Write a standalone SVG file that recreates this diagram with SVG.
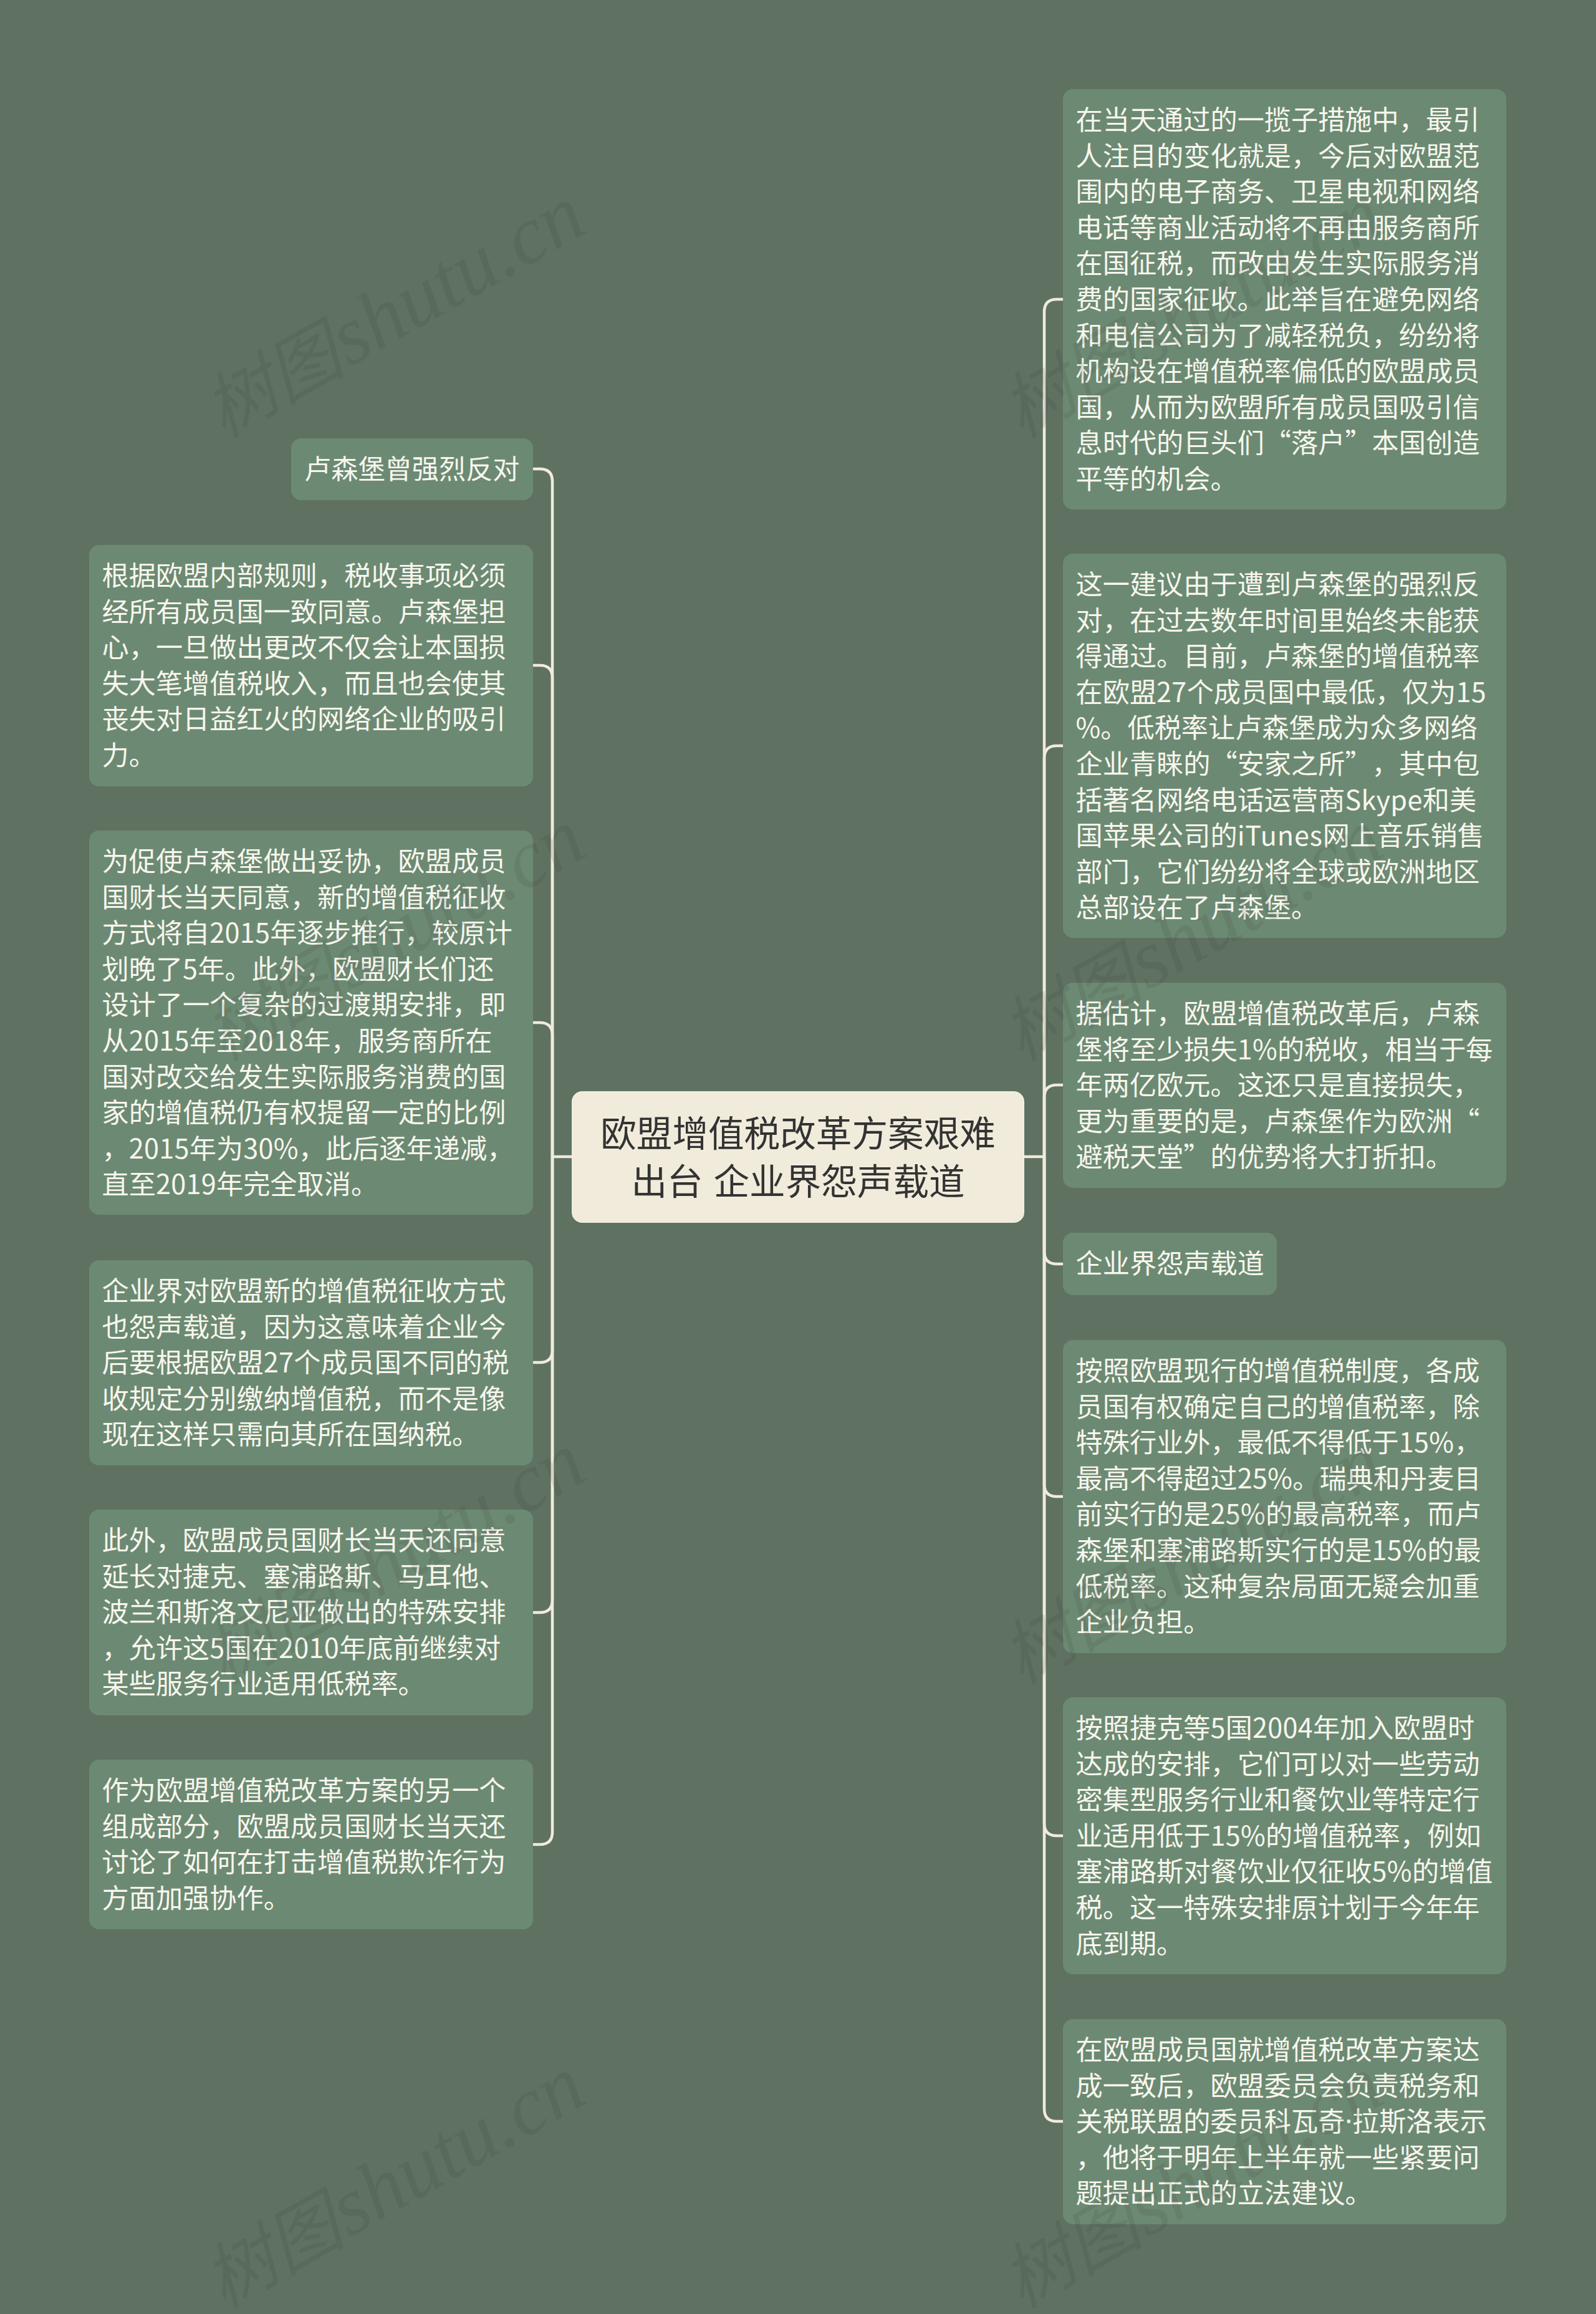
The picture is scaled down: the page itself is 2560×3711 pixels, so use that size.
<svg xmlns="http://www.w3.org/2000/svg" width="2560" height="3711" viewBox="0 0 2560 3711">
<style>
.bg{fill:#5f7262}
.n{fill:#6c8a73}
.root{fill:#f0ebdb;stroke:#f2eee0;stroke-width:2}
.c{fill:none;stroke:#f0ebdc;stroke-width:4.5}
.t{font-family:"Noto Sans CJK SC","Noto Sans",sans-serif;font-size:43.2px;fill:#f8f6ee;text-spacing-trim:space-all}
.l{letter-spacing:.3px}
.i{letter-spacing:.8px}
.d{font-family:"Noto Sans",sans-serif}
.rt{font-family:"Noto Sans CJK SC","Noto Sans",sans-serif;font-size:57.6px;fill:#333;text-anchor:middle;word-spacing:4px}
.w{font-family:"Liberation Serif","Noto Sans CJK SC",serif;font-style:italic;font-size:132px;fill:#333;fill-opacity:.13}
.wc{font-size:114px;word-spacing:-24px}
</style>
<rect class="bg" width="2560" height="3711"/>
<g id="connectors">
<path class="c" d="M917 1855H886V772Q886 752 866 752H855"/>
<path class="c" d="M886 1855V1087Q886 1067 866 1067H855"/>
<path class="c" d="M886 1855V1660Q886 1640 866 1640H855"/>
<path class="c" d="M886 1855V2165Q886 2185 866 2185H855"/>
<path class="c" d="M886 1855V2566Q886 2586 866 2586H855"/>
<path class="c" d="M886 1855V2938Q886 2958 866 2958H855"/>
<path class="c" d="M1643 1855H1675V500Q1675 480 1695 480H1705"/>
<path class="c" d="M1675 1855V1216Q1675 1196 1695 1196H1705"/>
<path class="c" d="M1675 1855V1760Q1675 1740 1695 1740H1705"/>
<path class="c" d="M1675 1855V2007Q1675 2027 1695 2027H1705"/>
<path class="c" d="M1675 1855V2380Q1675 2400 1695 2400H1705"/>
<path class="c" d="M1675 1855V2924Q1675 2944 1695 2944H1705"/>
<path class="c" d="M1675 1855V3382Q1675 3402 1695 3402H1705"/>
</g>
<g id="root">
<rect class="root" x="918" y="1751" width="724" height="209" rx="16"/>
<text class="rt" x="1280" y="1839">欧盟增值税改革方案艰难</text>
<text class="rt" x="1280" y="1916">出台 企业界怨声载道</text>
</g>
<g id="left-1">
<rect class="n" x="467" y="703" width="388" height="99" rx="16"/>
<text class="t" x="488" y="768">卢森堡曾强烈反对</text>
</g>
<g id="left-2">
<rect class="n" x="143" y="874" width="712" height="387" rx="16"/>
<text class="t" x="163.5" y="939">根据欧盟内部规则，税收事项必须</text>
<text class="t" x="163.5" y="996.6">经所有成员国一致同意。卢森堡担</text>
<text class="t" x="163.5" y="1054.2">心，一旦做出更改不仅会让本国损</text>
<text class="t" x="163.5" y="1111.8">失大笔增值税收入，而且也会使其</text>
<text class="t" x="163.5" y="1169.4">丧失对日益红火的网络企业的吸引</text>
<text class="t" x="163.5" y="1227">力。</text>
</g>
<g id="left-3">
<rect class="n" x="143" y="1332" width="712" height="616" rx="16"/>
<text class="t" x="163.5" y="1397">为促使卢森堡做出妥协，欧盟成员</text>
<text class="t" x="163.5" y="1454.6">国财长当天同意，新的增值税征收</text>
<text class="t" x="163.5" y="1512.2">方式将自<tspan class="l">2015</tspan>年逐步推行，较原计</text>
<text class="t" x="163.5" y="1569.8">划晚了<tspan class="l">5</tspan>年。此外，欧盟财长们还</text>
<text class="t" x="163.5" y="1627.4">设计了一个复杂的过渡期安排，即</text>
<text class="t" x="163.5" y="1685">从<tspan class="l">2015</tspan>年至<tspan class="l">2018</tspan>年，服务商所在</text>
<text class="t" x="163.5" y="1742.6">国对改交给发生实际服务消费的国</text>
<text class="t" x="163.5" y="1800.2">家的增值税仍有权提留一定的比例</text>
<text class="t" x="163.5" y="1857.8">，<tspan class="l">2015</tspan>年为<tspan class="l">30%</tspan>，此后逐年递减，</text>
<text class="t" x="163.5" y="1915.4">直至<tspan class="l">2019</tspan>年完全取消。</text>
</g>
<g id="left-4">
<rect class="n" x="143" y="2021" width="712" height="329" rx="16"/>
<text class="t" x="163.5" y="2086">企业界对欧盟新的增值税征收方式</text>
<text class="t" x="163.5" y="2143.6">也怨声载道，因为这意味着企业今</text>
<text class="t" x="163.5" y="2201.2">后要根据欧盟<tspan class="l">27</tspan>个成员国不同的税</text>
<text class="t" x="163.5" y="2258.8">收规定分别缴纳增值税，而不是像</text>
<text class="t" x="163.5" y="2316.4">现在这样只需向其所在国纳税。</text>
</g>
<g id="left-5">
<rect class="n" x="143" y="2421" width="712" height="330" rx="16"/>
<text class="t" x="163.5" y="2486">此外，欧盟成员国财长当天还同意</text>
<text class="t" x="163.5" y="2543.6">延长对捷克、塞浦路斯、马耳他、</text>
<text class="t" x="163.5" y="2601.2">波兰和斯洛文尼亚做出的特殊安排</text>
<text class="t" x="163.5" y="2658.8">，允许这<tspan class="l">5</tspan>国在<tspan class="l">2010</tspan>年底前继续对</text>
<text class="t" x="163.5" y="2716.4">某些服务行业适用低税率。</text>
</g>
<g id="left-6">
<rect class="n" x="143" y="2822" width="712" height="272" rx="16"/>
<text class="t" x="163.5" y="2887">作为欧盟增值税改革方案的另一个</text>
<text class="t" x="163.5" y="2944.6">组成部分，欧盟成员国财长当天还</text>
<text class="t" x="163.5" y="3002.2">讨论了如何在打击增值税欺诈行为</text>
<text class="t" x="163.5" y="3059.8">方面加强协作。</text>
</g>
<g id="right-1">
<rect class="n" x="1705" y="143" width="711" height="674" rx="16"/>
<text class="t" x="1725.5" y="208">在当天通过的一揽子措施中，最引</text>
<text class="t" x="1725.5" y="265.6">人注目的变化就是，今后对欧盟范</text>
<text class="t" x="1725.5" y="323.2">围内的电子商务、卫星电视和网络</text>
<text class="t" x="1725.5" y="380.8">电话等商业活动将不再由服务商所</text>
<text class="t" x="1725.5" y="438.4">在国征税，而改由发生实际服务消</text>
<text class="t" x="1725.5" y="496">费的国家征收。此举旨在避免网络</text>
<text class="t" x="1725.5" y="553.6">和电信公司为了减轻税负，纷纷将</text>
<text class="t" x="1725.5" y="611.2">机构设在增值税率偏低的欧盟成员</text>
<text class="t" x="1725.5" y="668.8">国，从而为欧盟所有成员国吸引信</text>
<text class="t" x="1725.5" y="726.4">息时代的巨头们“落户”本国创造</text>
<text class="t" x="1725.5" y="784">平等的机会。</text>
</g>
<g id="right-2">
<rect class="n" x="1705" y="888" width="711" height="616" rx="16"/>
<text class="t" x="1725.5" y="953">这一建议由于遭到卢森堡的强烈反</text>
<text class="t" x="1725.5" y="1010.6">对，在过去数年时间里始终未能获</text>
<text class="t" x="1725.5" y="1068.2">得通过。目前，卢森堡的增值税率</text>
<text class="t" x="1725.5" y="1125.8">在欧盟<tspan class="l">27</tspan>个成员国中最低，仅为<tspan class="l">15</tspan></text>
<text class="t" x="1725.5" y="1183.4">%。低税率让卢森堡成为众多网络</text>
<text class="t" x="1725.5" y="1241">企业青睐的“安家之所”，其中包</text>
<text class="t" x="1725.5" y="1298.6">括著名网络电话运营商<tspan class="l">Skype</tspan>和美</text>
<text class="t" x="1725.5" y="1356.2">国苹果公司的<tspan class="i">iTunes</tspan>网上音乐销售</text>
<text class="t" x="1725.5" y="1413.8">部门，它们纷纷将全球或欧洲地区</text>
<text class="t" x="1725.5" y="1471.4">总部设在了卢森堡。</text>
</g>
<g id="right-3">
<rect class="n" x="1705" y="1576" width="711" height="329" rx="16"/>
<text class="t" x="1725.5" y="1641">据估计，欧盟增值税改革后，卢森</text>
<text class="t" x="1725.5" y="1698.6">堡将至少损失<tspan class="l">1%</tspan>的税收，相当于每</text>
<text class="t" x="1725.5" y="1756.2">年两亿欧元。这还只是直接损失，</text>
<text class="t" x="1725.5" y="1813.8">更为重要的是，卢森堡作为欧洲“</text>
<text class="t" x="1725.5" y="1871.4">避税天堂”的优势将大打折扣。</text>
</g>
<g id="right-4">
<rect class="n" x="1705" y="1977" width="343" height="100" rx="16"/>
<text class="t" x="1725.5" y="2042">企业界怨声载道</text>
</g>
<g id="right-5">
<rect class="n" x="1705" y="2149" width="711" height="502" rx="16"/>
<text class="t" x="1725.5" y="2214">按照欧盟现行的增值税制度，各成</text>
<text class="t" x="1725.5" y="2271.6">员国有权确定自己的增值税率，除</text>
<text class="t" x="1725.5" y="2329.2">特殊行业外，最低不得低于<tspan class="l">15%</tspan>，</text>
<text class="t" x="1725.5" y="2386.8">最高不得超过<tspan class="l">25%</tspan>。瑞典和丹麦目</text>
<text class="t" x="1725.5" y="2444.4">前实行的是<tspan class="l">25%</tspan>的最高税率，而卢</text>
<text class="t" x="1725.5" y="2502">森堡和塞浦路斯实行的是<tspan class="l">15%</tspan>的最</text>
<text class="t" x="1725.5" y="2559.6">低税率。这种复杂局面无疑会加重</text>
<text class="t" x="1725.5" y="2617.2">企业负担。</text>
</g>
<g id="right-6">
<rect class="n" x="1705" y="2722" width="711" height="444" rx="16"/>
<text class="t" x="1725.5" y="2787">按照捷克等<tspan class="l">5</tspan>国<tspan class="l">2004</tspan>年加入欧盟时</text>
<text class="t" x="1725.5" y="2844.6">达成的安排，它们可以对一些劳动</text>
<text class="t" x="1725.5" y="2902.2">密集型服务行业和餐饮业等特定行</text>
<text class="t" x="1725.5" y="2959.8">业适用低于<tspan class="l">15%</tspan>的增值税率，例如</text>
<text class="t" x="1725.5" y="3017.4">塞浦路斯对餐饮业仅征收<tspan class="l">5%</tspan>的增值</text>
<text class="t" x="1725.5" y="3075">税。这一特殊安排原计划于今年年</text>
<text class="t" x="1725.5" y="3132.6">底到期。</text>
</g>
<g id="right-7">
<rect class="n" x="1705" y="3238" width="711" height="329" rx="16"/>
<text class="t" x="1725.5" y="3303">在欧盟成员国就增值税改革方案达</text>
<text class="t" x="1725.5" y="3360.6">成一致后，欧盟委员会负责税务和</text>
<text class="t" x="1725.5" y="3418.2">关税联盟的委员科瓦奇<tspan class="d">·</tspan>拉斯洛表示</text>
<text class="t" x="1725.5" y="3475.8">，他将于明年上半年就一些紧要问</text>
<text class="t" x="1725.5" y="3533.4">题提出正式的立法建议。</text>
</g>
<g id="watermarks">
<text class="w" transform="translate(358 703) rotate(-29.5)"><tspan class="wc">树图 </tspan>shutu.cn</text>
<text class="w" transform="translate(1638 703) rotate(-29.5)"><tspan class="wc">树图 </tspan>shutu.cn</text>
<text class="w" transform="translate(358 1703) rotate(-29.5)"><tspan class="wc">树图 </tspan>shutu.cn</text>
<text class="w" transform="translate(1638 1703) rotate(-29.5)"><tspan class="wc">树图 </tspan>shutu.cn</text>
<text class="w" transform="translate(358 2703) rotate(-29.5)"><tspan class="wc">树图 </tspan>shutu.cn</text>
<text class="w" transform="translate(1638 2703) rotate(-29.5)"><tspan class="wc">树图 </tspan>shutu.cn</text>
<text class="w" transform="translate(358 3703) rotate(-29.5)"><tspan class="wc">树图 </tspan>shutu.cn</text>
<text class="w" transform="translate(1638 3703) rotate(-29.5)"><tspan class="wc">树图 </tspan>shutu.cn</text>
</g>
</svg>
